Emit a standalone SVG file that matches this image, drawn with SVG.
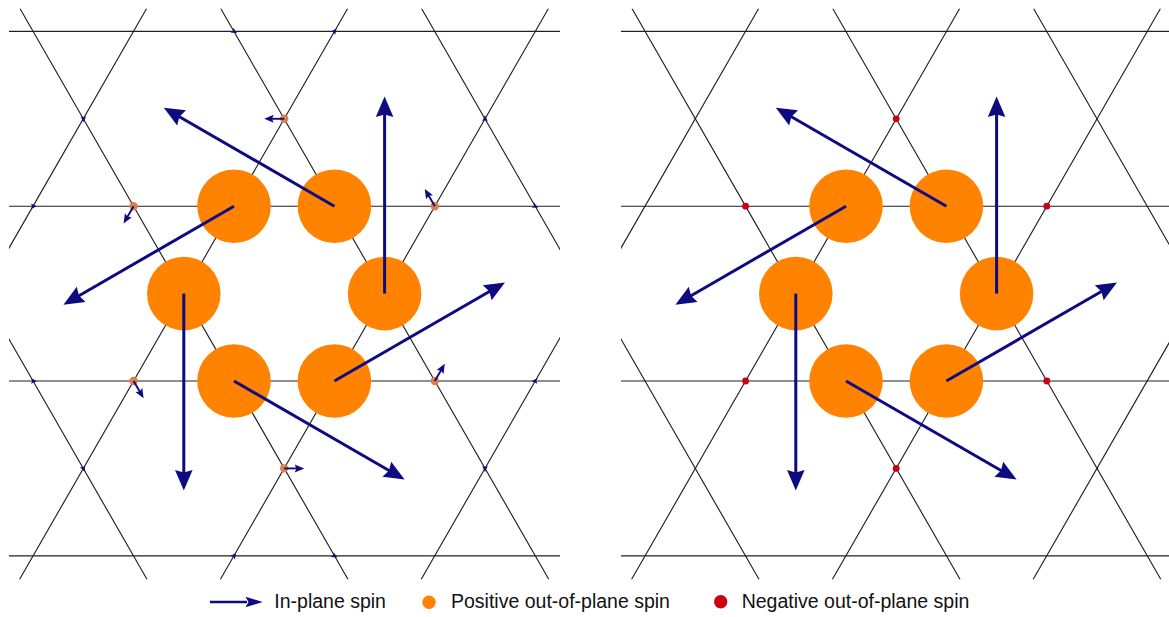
<svg xmlns="http://www.w3.org/2000/svg" xmlns:xlink="http://www.w3.org/1999/xlink" width="1169" height="617" viewBox="0 0 1169 617">
<style>
.ln{stroke:#222;stroke-width:1.15;fill:none}
.big{fill:#ff8300}
.pos{fill:#d9804f}
.neg{fill:#cc0010}
.sp{stroke:#0e0b80;stroke-width:3;fill:none;marker-end:url(#hd)}
.ss{stroke:#0e0b80;stroke-width:1.9;fill:none;marker-end:url(#hs)}
.tiny{fill:#0e0b80}
.lg{font-family:"Liberation Sans",Arial,sans-serif;font-size:19.5px;fill:#111}
</style>
<defs>
<marker id="hd" markerUnits="userSpaceOnUse" orient="auto" overflow="visible" markerWidth="1" markerHeight="1" refX="0" refY="0"><path d="M15,0 L-5.5,8.8 L-3,0 L-5.5,-8.8 Z" fill="#0e0b80"/></marker>
<marker id="hs" markerUnits="userSpaceOnUse" orient="auto" overflow="visible" markerWidth="1" markerHeight="1" refX="0" refY="0"><path d="M6,0 L-3.5,4 L-1.8,0 L-3.5,-4 Z" fill="#0e0b80"/></marker>
<clipPath id="clip" clipPathUnits="userSpaceOnUse"><rect x="9" y="8.5" width="551" height="571"/></clipPath>
<path id="tiny" d="M3.5,0 L-2.5,2.8 L-1.2,0 L-2.5,-2.8 Z"/>
<g id="lattice" clip-path="url(#clip)">
<path class="ln" d="M9,31.4H560M9,206.2H560M9,381H560M9,555.8H560"/>
<path class="ln" d="M-181.05,8.5L147.1,579.5M19.95,8.5L348.1,579.5M220.75,8.5L548.9,579.5M421.55,8.5L749.7,579.5"/>
<path class="ln" d="M146.65,8.5L-181.5,579.5M347.65,8.5L19.5,579.5M548.45,8.5L220.3,579.5M749.25,8.5L421.1,579.5"/>
</g>
<g id="bigspins">
<circle class="big" cx="384.6" cy="293.6" r="36.8"/>
<circle class="big" cx="334.4" cy="206.2" r="36.8"/>
<circle class="big" cx="234" cy="206.2" r="36.8"/>
<circle class="big" cx="183.8" cy="293.6" r="36.8"/>
<circle class="big" cx="234" cy="381" r="36.8"/>
<circle class="big" cx="334.4" cy="381" r="36.8"/>
<path class="sp" d="M384.6,293.6L384.6,111.6"/>
<path class="sp" d="M334.4,206.2L176.8,115.2"/>
<path class="sp" d="M234,206.2L76.4,297.2"/>
<path class="sp" d="M183.8,293.6L183.8,475.6"/>
<path class="sp" d="M234,381L391.6,472"/>
<path class="sp" d="M334.4,381L492,290"/>
</g>
</defs>
<rect width="1169" height="617" fill="#fff"/>
<g id="left-panel">
<use xlink:href="#lattice"/>
<g id="left-small-sites">
<circle class="pos" cx="284.2" cy="118.8" r="4.2"/>
<circle class="pos" cx="133.6" cy="206.2" r="4.2"/>
<circle class="pos" cx="434.8" cy="206.2" r="4.2"/>
<circle class="pos" cx="133.6" cy="381" r="4.2"/>
<circle class="pos" cx="434.8" cy="381" r="4.2"/>
<circle class="pos" cx="284.2" cy="468.4" r="4.2"/>
<path class="ss" d="M284.2,118.8L270.2,118.8"/>
<path class="ss" d="M133.6,206.2L126.6,218.3"/>
<path class="ss" d="M434.8,206.2L427.8,194.1"/>
<path class="ss" d="M133.6,381L140.6,393.1"/>
<path class="ss" d="M434.8,381L441.8,368.9"/>
<path class="ss" d="M284.2,468.4L298.2,468.4"/>
</g>
<g id="left-tiny-spins" class="tiny">
<use xlink:href="#tiny" transform="translate(33.4,206.2) rotate(0)"/>
<use xlink:href="#tiny" transform="translate(83.4,118.8) rotate(90)"/>
<use xlink:href="#tiny" transform="translate(234,31.4) rotate(30)"/>
<use xlink:href="#tiny" transform="translate(334.4,31.4) rotate(-53)"/>
<use xlink:href="#tiny" transform="translate(485,118.8) rotate(-90)"/>
<use xlink:href="#tiny" transform="translate(535,206.2) rotate(26)"/>
<use xlink:href="#tiny" transform="translate(535,381) rotate(180)"/>
<use xlink:href="#tiny" transform="translate(485,468.4) rotate(90)"/>
<use xlink:href="#tiny" transform="translate(334.4,555.8) rotate(30)"/>
<use xlink:href="#tiny" transform="translate(234,555.8) rotate(-53)"/>
<use xlink:href="#tiny" transform="translate(83.4,468.4) rotate(72)"/>
<use xlink:href="#tiny" transform="translate(33.4,381) rotate(0)"/>
</g>
<use xlink:href="#bigspins"/>
</g>
<g id="right-panel">
<use xlink:href="#lattice" transform="translate(612,0)"/>
<g id="right-small-sites">
<circle class="neg" cx="896.2" cy="118.8" r="3.4"/>
<circle class="neg" cx="745.6" cy="206.2" r="3.4"/>
<circle class="neg" cx="1046.8" cy="206.2" r="3.4"/>
<circle class="neg" cx="745.6" cy="381" r="3.4"/>
<circle class="neg" cx="1046.8" cy="381" r="3.4"/>
<circle class="neg" cx="896.2" cy="468.4" r="3.4"/>
</g>
<use xlink:href="#bigspins" transform="translate(612,0)"/>
</g>
<g id="legend">
<path d="M210,602H247" stroke="#0e0b80" stroke-width="2.5"/>
<path d="M262.7,602 L245.5,596.8 L248.5,602 L245.5,607.2 Z" fill="#0e0b80"/>
<text class="lg" x="274.3" y="607.5">In-plane spin</text>
<circle cx="429" cy="602.2" r="6.7" fill="#ff8300"/>
<text class="lg" x="451" y="607.5">Positive out-of-plane spin</text>
<circle cx="720.7" cy="601.8" r="6.7" fill="#cc0010"/>
<text class="lg" x="741.7" y="607.5">Negative out-of-plane spin</text>
</g>
</svg>
